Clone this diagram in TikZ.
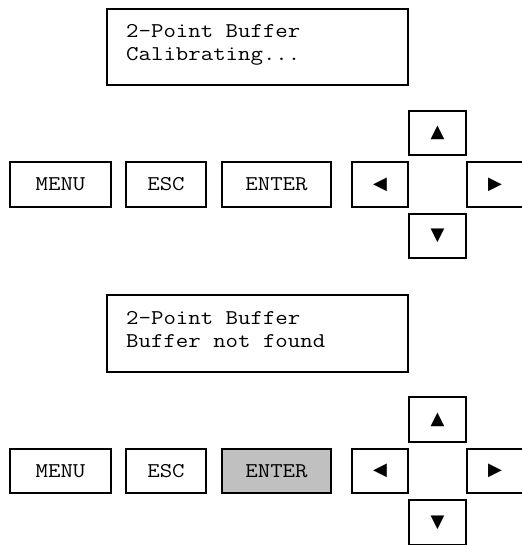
\documentclass[tikz,border=0pt]{standalone}
\usepackage{fontspec}
\setmonofont{Latin Modern Mono}[FakeStretch=1.15]
\newfontfamily\symfont{DejaVu Sans}
\definecolor{pressed}{HTML}{C0C0C0}
\begin{document}
\begin{tikzpicture}[x=1pt,y=-1pt,
  display/.style={draw, line width=1.7pt, minimum width=301.5pt, minimum height=76.5pt, inner sep=0pt},
  lcdtext/.style={anchor=base west, inner sep=0pt, font=\ttfamily\fontsize{21}{23}\selectfont},
  btn/.style={draw, line width=1.7pt, minimum height=44.5pt, inner sep=0pt, font=\ttfamily\fontsize{21}{23}\selectfont},
  arrowbtn/.style={btn, font=\symfont\fontsize{18}{20}\selectfont},
  pressedbtn/.style={fill=pressed}]
\useasboundingbox (0,0) rectangle (521,545);
% ---------- group 1 ----------
\node[display] (d1) at (257.5,47) {};
\node[lcdtext] (d1a) at (126,38) {2-Point Buffer};
\node[lcdtext] (d1b) at (126,61) {Calibrating...};
\node[btn, minimum width=101.5pt] (menu1) at (60.5,184.5) {MENU};
\node[btn, minimum width=80.5pt] (esc1) at (166,184.5) {ESC};
\node[btn, minimum width=109.5pt] (enter1) at (276.5,184.5) {ENTER};
\node[arrowbtn, minimum width=56.5pt] (left1) at (380,184.5) {◀};
\node[arrowbtn, minimum width=57.5pt] (up1) at (437.5,133) {▲};
\node[arrowbtn, minimum width=56.5pt] (right1) at (495,184.5) {▶};
\node[arrowbtn, minimum width=57.5pt] (down1) at (437.5,236) {▼};
% ---------- group 2 ----------
\begin{scope}[yshift=-286.5pt]
\node[display] (d2) at (257.5,47) {};
\node[lcdtext] (d2a) at (126,38) {2-Point Buffer};
\node[lcdtext] (d2b) at (126,61) {Buffer not found};
\node[btn, minimum width=101.5pt] (menu2) at (60.5,184.5) {MENU};
\node[btn, minimum width=80.5pt] (esc2) at (166,184.5) {ESC};
\node[btn, pressedbtn, minimum width=109.5pt] (enter2) at (276.5,184.5) {ENTER};
\node[arrowbtn, minimum width=56.5pt] (left2) at (380,184.5) {◀};
\node[arrowbtn, minimum width=57.5pt] (up2) at (437.5,133) {▲};
\node[arrowbtn, minimum width=56.5pt] (right2) at (495,184.5) {▶};
\node[arrowbtn, minimum width=57.5pt] (down2) at (437.5,236) {▼};
\end{scope}
\end{tikzpicture}
\end{document}
